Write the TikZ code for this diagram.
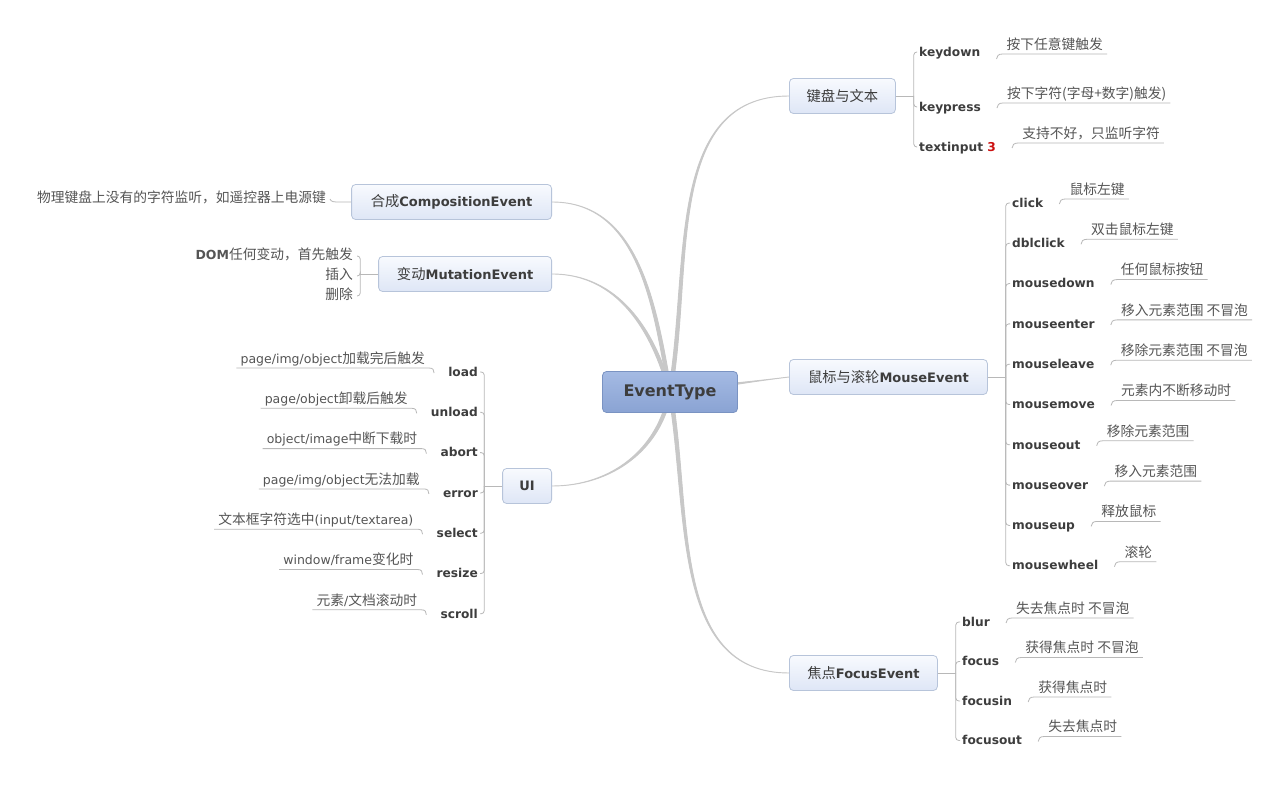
\documentclass[tikz,border=0pt]{standalone}
\usepackage{fontspec}
\setmainfont{DejaVu Sans}
\newfontfamily\cjk[Scale=1.1]{Noto Sans CJK SC}
\newcommand\zh[1]{{\cjk #1}}
\usetikzlibrary{positioning}
\pgfdeclarelayer{background}
\pgfsetlayers{background,main}

\definecolor{inkdark}{HTML}{3D3D3D}
\definecolor{inknote}{HTML}{555555}
\definecolor{twiggray}{HTML}{B8B8B8}
\definecolor{branchgray}{HTML}{C8C8C8}
\definecolor{boxtop}{HTML}{F8FAFE}
\definecolor{boxbot}{HTML}{DEE6F6}
\definecolor{boxline}{HTML}{B7C4DA}
\definecolor{roottop}{HTML}{A4BAE3}
\definecolor{rootbot}{HTML}{8AA3D3}
\definecolor{rootline}{HTML}{7A93C2}
\definecolor{numred}{HTML}{CC1010}

\tikzset{
  root/.style={draw=rootline, line width=0.8pt, rounded corners=4pt,
    top color=roottop, bottom color=rootbot, minimum width=135pt,
    minimum height=41pt, text=inkdark,
    font=\fontsize{16}{18}\selectfont\bfseries},
  topic/.style={draw=boxline, line width=0.8pt, rounded corners=4pt,
    top color=boxtop, bottom color=boxbot, minimum height=35pt,
    inner xsep=14pt, text=inkdark, font=\fontsize{13}{15}\selectfont},
  evt/.style={inner xsep=2pt, inner ysep=0pt, text height=11pt,
    text depth=2.5pt, text=inkdark,
    font=\fontsize{12.2}{14}\selectfont\bfseries},
  note/.style={inner xsep=4pt, inner ysep=2.5pt, text height=10pt,
    text depth=2pt, text=inknote, font=\fontsize{12.5}{14}\selectfont},
  twig/.style={draw=twiggray, line width=0.8pt},
  branch/.style={fill=branchgray, draw=branchgray, line width=0.9pt}
}

% tapered branch from the root: {target}{out}{in}{shift key}
\newcommand\branch[4]{%
  \path[branch] ([#4=-1.8pt]root.center) to[out=#2,in=#3] (#1)
    to[out=#3,in=#2] ([#4=1.8pt]root.center) -- cycle;
}
% note on the right of an event: [drop]{parent}{name}{text}
\newcommand\noteR[4][0]{%
  \coordinate (#3h) at ([xshift=14pt,yshift=-#1pt-1pt]#2.east);
  \node[note, anchor=south west] (#3) at ([xshift=6pt,yshift=5pt]#3h) {#4};
  \draw[twig] (#3h) .. controls +(0,3) and +(-4,0) .. (#3.south west)
    -- (#3.south east);
}
% note on the left of an event: {parent}{name}{text}
\newcommand\noteL[3]{%
  \coordinate (#2h) at ([xshift=-12pt,yshift=-1pt]#1.west);
  \node[note, anchor=south east] (#2) at ([xshift=-5pt,yshift=5pt]#2h) {#3};
  \draw[twig] (#2h) .. controls +(0,3) and +(4,0) .. (#2.south east)
    -- (#2.south west);
}

\begin{document}
\begin{tikzpicture}[x=1pt,y=1pt]

  \useasboundingbox (0,0) rectangle (1288,-786);
  \begin{pgfonlayer}{background}
    \fill[white] (0,0) rectangle (1288,-786);
  \end{pgfonlayer}

  %% root and topics
  \node[root] (root) at (670,-392) {EventType};

  \node[topic, anchor=west, minimum width=106pt] (kbd) at (789,-96)
    {\zh{键盘与文本}};
  \node[topic, anchor=east, minimum width=200pt] (comp) at (552,-202)
    {\zh{合成}\textbf{CompositionEvent}};
  \node[topic, anchor=east, minimum width=173pt] (mut) at (552,-274)
    {\zh{变动}\textbf{MutationEvent}};
  \node[topic, anchor=west, minimum width=198pt] (mouse) at (789,-377)
    {\zh{鼠标与滚轮}\textbf{MouseEvent}};
  \node[topic, anchor=east, minimum width=49pt] (ui) at (552,-486)
    {\textbf{UI}};
  \node[topic, anchor=west, minimum width=148pt] (focus) at (789,-673)
    {\zh{焦点}\textbf{FocusEvent}};

  \begin{pgfonlayer}{background}
    \branch{kbd.west}{80}{180}{xshift}
    \branch{comp.east}{100}{0}{xshift}
    \branch{mut.east}{105}{0}{xshift}
    \branch{mouse.west}{7}{187}{yshift}
    \branch{ui.east}{-100}{0}{xshift}
    \branch{focus.west}{-80}{180}{xshift}
  \end{pgfonlayer}

  %% keyboard
  \coordinate (kbdj) at ([xshift=18pt]kbd.east);
  \node[evt, anchor=west] (kd) at (917,-52) {keydown};
  \node[evt, anchor=west] (kp) at (917,-107) {keypress};
  \node[evt, anchor=west] (ti) at (917,-147) {textinput \textcolor{numred}{3}};
  \draw[twig] (kbd.east) -- (kbdj);
  \foreach \c in {kd,kp,ti}
    \draw[twig, rounded corners=3pt] (kbdj) |- (\c.west);
  \noteR[6]{kd}{kdn}{\zh{按下任意键触发}}
  \noteR{kp}{kpn}{\zh{按下字符(字母+数字)触发)}}
  \noteR{ti}{tin}{\zh{支持不好，只监听字符}}

  %% composition
  \node[note, anchor=east] (compn) at (330,-199)
    {\zh{物理键盘上没有的字符监听，如遥控器上电源键}};
  \draw[twig] (comp.west) -- ++(-12,0) .. controls +(-5,0) and +(1,-3) .. (compn.east);

  %% mutation
  \coordinate (mutj) at ([xshift=-18pt]mut.west);
  \draw[twig] (mut.west) -- (mutj);
  \foreach \t [count=\i from 0] in {\textbf{DOM}\zh{任何变动，首先触发},
      \zh{插入}, \zh{删除}} {
    \node[note, anchor=east] (mu\i) at (357,-256-20*\i) {\t};
    \draw[twig, rounded corners=3pt] (mutj) |- (mu\i.east);
  }

  %% mouse
  \coordinate (msj) at ([xshift=18pt]mouse.east);
  \draw[twig] (mouse.east) -- (msj);
  \foreach \ev/\tx [count=\i from 0] in {click/鼠标左键, dblclick/双击鼠标左键,
      mousedown/任何鼠标按钮, mouseenter/移入元素范围 不冒泡,
      mouseleave/移除元素范围 不冒泡, mousemove/元素内不断移动时,
      mouseout/移除元素范围, mouseover/移入元素范围, mouseup/释放鼠标,
      mousewheel/滚轮} {
    \node[evt, anchor=west] (ms\i) at (1010,-203-40.3*\i) {\ev};
    \draw[twig, rounded corners=3pt] (msj) |- (ms\i.west);
    \noteR{ms\i}{msn\i}{\zh{\tx}}
  }

  %% UI
  \coordinate (uij) at ([xshift=-18pt]ui.west);
  \draw[twig] (ui.west) -- (uij);
  \foreach \ev/\tx [count=\i from 0] in {load/{page/img/object\zh{加载完后触发}},
      unload/{page/object\zh{卸载后触发}}, abort/{object/image\zh{中断下载时}},
      error/{page/img/object\zh{无法加载}},
      select/{\zh{文本框字符选中}(input/textarea)},
      resize/{window/frame\zh{变化时}}, scroll/{\zh{元素}/\zh{文档滚动时}}} {
    \node[evt, anchor=east] (ui\i) at (480,-372-40.3*\i) {\ev};
    \draw[twig, rounded corners=3pt] (uij) |- (ui\i.east);
    \noteL{ui\i}{uin\i}{\tx}
  }

  %% focus
  \coordinate (fcj) at ([xshift=18pt]focus.east);
  \draw[twig] (focus.east) -- (fcj);
  \foreach \ev/\tx [count=\i from 0] in {blur/失去焦点时 不冒泡,
      focus/获得焦点时 不冒泡, focusin/获得焦点时, focusout/失去焦点时} {
    \node[evt, anchor=west] (fc\i) at (960,-622-39.5*\i) {\ev};
    \draw[twig, rounded corners=3pt] (fcj) |- (fc\i.west);
    \noteR{fc\i}{fcn\i}{\zh{\tx}}
  }

\end{tikzpicture}
\end{document}
